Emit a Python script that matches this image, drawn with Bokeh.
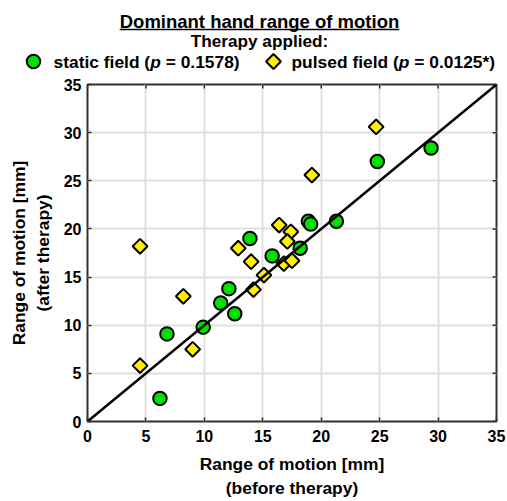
import numpy as np
from bokeh.plotting import figure
from bokeh.models import Range1d, FixedTicker
from bokeh.embed import file_html
from bokeh.resources import INLINE
from bokeh.core.properties import value

# ---------------- data ----------------
static_before = [6.2, 6.8, 9.9, 11.4, 12.1, 12.6, 13.9, 15.8, 18.2, 18.9, 19.1, 21.3, 24.8, 29.4]
static_after = [2.4, 9.1, 9.8, 12.3, 13.8, 11.2, 19.0, 17.2, 18.0, 20.8, 20.5, 20.8, 27.0, 28.4]
pulsed_before = [4.5, 4.5, 8.2, 9.0, 12.9, 14.0, 14.2, 15.1, 16.4, 17.4, 17.1, 16.8, 17.5, 19.2, 24.7]
pulsed_after = [18.2, 5.8, 13.0, 7.5, 18.0, 16.6, 13.7, 15.2, 20.4, 19.7, 18.7, 16.4, 16.7, 25.6, 30.6]
identity_line = [0, 35]
ticks = [0, 5, 10, 15, 20, 25, 30, 35]

title_text = "Dominant hand range of motion"
subtitle_text = "Therapy applied:"
legend_static = ["static field (", "p", " = 0.1578)"]
legend_pulsed = ["pulsed field (", "p", " = 0.0125*)"]
x_label = "Range of motion [mm]\n(before therapy)"
y_label = "Range of motion [mm]\n(after therapy)"

FONT = "Liberation Sans"
GREEN = "#00e000"
YELLOW = "#ffee00"
DARK = "#303030"

W = 507
HEAD_H = 74
MAIN_H = 427
BORDER_L, BORDER_R, BORDER_T, BORDER_B = 87, 11, 10, 80
FRAME_W = W - BORDER_L - BORDER_R
FRAME_H = MAIN_H - BORDER_T - BORDER_B

# Arial/Liberation Sans Bold advance widths (per 1000 em)
AW = {" ": 278, "(": 333, ")": 333, "=": 584, ".": 278, "*": 389, ":": 333,
      "a": 556, "c": 556, "d": 611, "e": 556, "f": 333, "i": 278, "l": 278,
      "p": 611, "s": 556, "t": 333, "u": 611, "r": 389, "y": 556, "h": 611,
      "g": 611, "o": 611, "m": 889, "n": 611, "D": 722, "T": 611}
for dgt in "0123456789":
    AW[dgt] = 556


def tw(s, size):
    return sum(AW.get(c, 556) for c in s) * size / 1000.0


# ---------------- header (own root, pixel coordinates) ----------------
head = figure(width=W, height=HEAD_H, x_range=Range1d(0, W), y_range=Range1d(HEAD_H, 0),
              output_backend="svg", toolbar_location=None,
              x_axis_location=None, y_axis_location=None,
              min_border=0, outline_line_color=None)
head.grid.visible = False

TITLE_SIZE = 18.5
SUB_SIZE = 17.2
LEG_SIZE = 17.4
cx = 259


def mid(baseline, size):
    return baseline - 0.3465 * size


head.text(x=[cx], y=[mid(27.5, TITLE_SIZE)], text=[title_text], text_font=value(FONT),
          text_font_style="bold", text_font_size=f"{TITLE_SIZE}px", text_align="center",
          text_baseline="middle", text_color="black")
tw_title = tw(title_text, TITLE_SIZE)
head.segment(x0=[cx - tw_title / 2], x1=[cx + tw_title / 2], y0=[29], y1=[29],
             line_color="black", line_width=1.5)
head.text(x=[cx], y=[mid(46.5, SUB_SIZE)], text=[subtitle_text], text_font=value(FONT),
          text_font_style="bold", text_font_size=f"{SUB_SIZE}px", text_align="center",
          text_baseline="middle", text_color="black")


def legend_item(mx, tx, pieces, marker, color, size, angle):
    head.scatter([mx], [61], marker=marker, size=size, angle=angle, fill_color=color,
                 line_color="black", line_width=2)
    x = tx
    for piece in pieces:
        stripped = piece.lstrip(" ")
        x += tw(piece[:len(piece) - len(stripped)], LEG_SIZE)
        style = "bold italic" if stripped == "p" else "bold"
        head.text(x=[x], y=[mid(67.5, LEG_SIZE)], text=[stripped], text_font=value(FONT),
                  text_font_style=style, text_font_size=f"{LEG_SIZE}px", text_align="left",
                  text_baseline="middle", text_color="black")
        x += tw(stripped, LEG_SIZE)


legend_item(33, 53, legend_static, "circle", GREEN, 13.5, 0)
legend_item(273, 291, legend_pulsed, "square", YELLOW, 10.5, np.pi / 4)

# ---------------- main plot ----------------
p = figure(width=W, height=MAIN_H, x_range=Range1d(0, 35), y_range=Range1d(0, 35),
           output_backend="svg", toolbar_location=None,
           min_border_left=BORDER_L, min_border_right=BORDER_R,
           min_border_top=BORDER_T, min_border_bottom=BORDER_B)

p.outline_line_color = DARK
p.outline_line_width = 2

for ax in (p.xaxis[0], p.yaxis[0]):
    ax.ticker = FixedTicker(ticks=ticks)
    ax.axis_line_color = None
    ax.major_tick_in = 4
    ax.major_tick_out = 0
    ax.major_tick_line_color = DARK
    ax.major_tick_line_width = 1.5
    ax.minor_tick_line_color = None
    ax.major_label_text_font = FONT
    ax.major_label_text_font_style = "bold"
    ax.major_label_text_font_size = "16px"
    ax.major_label_text_color = "black"
    ax.axis_label_text_font = FONT
    ax.axis_label_text_font_style = "bold"
    ax.axis_label_text_color = "black"

p.xaxis.axis_label = x_label
p.yaxis.axis_label = y_label
p.xaxis.axis_label_text_font_size = "17.4px"
p.yaxis.axis_label_text_font_size = "17.4px"
p.xaxis.major_label_standoff = 8
p.yaxis.major_label_standoff = 6
p.xaxis.axis_label_standoff = 9
p.yaxis.axis_label_standoff = 8

p.grid.grid_line_color = "#e0e0e0"
p.grid.grid_line_width = 2

# inward ticks on the top and right frame edges (same tick values as the axes)
tick_len_y = 4 * 35 / FRAME_H
tick_len_x = 4 * 35 / FRAME_W
p.segment(x0=ticks, x1=ticks, y0=[35] * len(ticks), y1=[35 - tick_len_y] * len(ticks),
          line_color=DARK, line_width=1.5)
p.segment(x0=[35] * len(ticks), x1=[35 - tick_len_x] * len(ticks), y0=ticks, y1=ticks,
          line_color=DARK, line_width=1.5)

p.scatter(static_before, static_after, marker="circle", size=13.5, fill_color=GREEN,
          line_color="black", line_width=2)
p.scatter(pulsed_before, pulsed_after, marker="square", size=10.5, angle=np.pi / 4,
          fill_color=YELLOW, line_color="black", line_width=2)
p.line(identity_line, identity_line, line_color="black", line_width=2.5)

open("out.html", "w").write(file_html([head, p], INLINE))
